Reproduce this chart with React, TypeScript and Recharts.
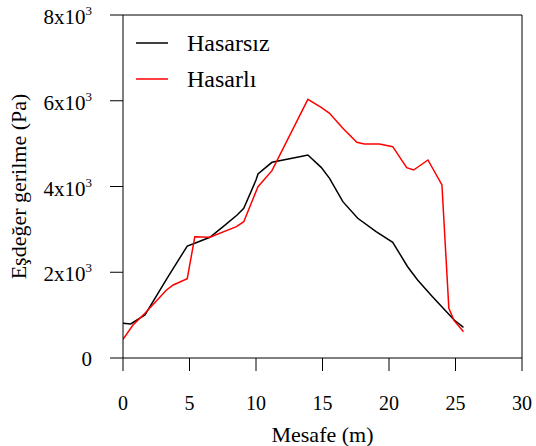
import React from "react";
import { LineChart, Line, XAxis, YAxis, ReferenceLine } from "recharts";

const hasarsizX = [0, 0.58, 1.65, 3.3, 4.83, 5.4, 6.53, 7.53, 8.58, 9.08, 10.0, 10.15, 11.2, 13.28, 13.9, 14.9, 15.53, 16.53, 17.65, 19.03, 20.28, 21.4, 22.15, 23.27, 24.9, 25.6];
const hasarsizY = [809, 793, 1003, 1850, 2612, 2675, 2815, 3063, 3335, 3491, 4152, 4292, 4564, 4695, 4735, 4447, 4190, 3646, 3258, 2946, 2698, 2129, 1819, 1430, 886, 716];

const hasarliX = [0, 0.75, 1.65, 3.27, 3.78, 4.83, 5.4, 6.53, 8.53, 9.08, 10.15, 11.2, 13.9, 14.9, 15.53, 16.53, 17.58, 18.15, 19.28, 20.28, 21.33, 21.85, 22.93, 23.98, 24.5, 24.9, 25.6];
const hasarliY = [436, 770, 1042, 1586, 1703, 1850, 2830, 2815, 3063, 3180, 3996, 4370, 6034, 5847, 5707, 5357, 5031, 4991, 4991, 4929, 4439, 4385, 4618, 4035, 1159, 870, 614];

const xTicks = [0, 5, 10, 15, 20, 25, 30];
const yTicks = [0, 2000, 4000, 6000, 8000];

const seriesNames = ["Hasarsız", "Hasarlı"];
const seriesColors = ["#000000", "#ff0000"];

const hasarsizData = hasarsizX.map((x, i) => ({ x, y: hasarsizY[i] }));
const hasarliData = hasarliX.map((x, i) => ({ x, y: hasarliY[i] }));

const FONT = "'Liberation Serif', 'Times New Roman', serif";

const YTick = (props: any) => {
  const { x, y, payload } = props;
  const v = payload.value as number;
  if (v === 0) {
    return (
      <text x={x} y={y} dy={8} textAnchor="end" fontSize={21} fontFamily={FONT} fill="#000">
        0
      </text>
    );
  }
  return (
    <text x={x} y={y} dy={9} textAnchor="end" fontSize={21} fontFamily={FONT} fill="#000">
      {`${v / 1000}x10`}
      <tspan dy={-9} fontSize={13}>3</tspan>
    </text>
  );
};

const LegendBox = () => (
  <div style={{ position: "absolute", left: 136, top: 25, fontFamily: FONT, fontSize: 24, color: "#000" }}>
    {seriesNames.map((n, i) => (
      <div key={n} style={{ display: "flex", alignItems: "center", height: 36 }}>
        <svg width={51} height={10} style={{ display: "block" }}>
          <line x1={0} y1={5} x2={32} y2={5} stroke={seriesColors[i]} strokeWidth={1.5} />
        </svg>
        <span style={{ lineHeight: "36px" }}>{n}</span>
      </div>
    ))}
  </div>
);

export default function App() {
  return (
    <div style={{ position: "absolute", left: 0, top: 0, width: 536, height: 446, background: "#fff" }}>
      <LineChart
        width={536}
        height={446}
        margin={{ top: 15, right: 14, left: 0, bottom: 0 }}
        style={{ fontFamily: FONT }}
      >
        <XAxis
          type="number"
          dataKey="x"
          domain={[0, 30]}
          ticks={xTicks}
          allowDataOverflow
          height={88}
          tickSize={13}
          tickMargin={25}
          stroke="#000"
          tick={{ fontSize: 20, fill: "#000", fontFamily: FONT }}
          label={{ value: "Mesafe (m)", position: "insideBottom", offset: 4, fontSize: 22, fill: "#000", fontFamily: FONT }}
        />
        <YAxis
          type="number"
          domain={[0, 8000]}
          ticks={yTicks}
          width={123}
          tickSize={13}
          tickMargin={18}
          stroke="#000"
          tick={<YTick />}
          label={{ value: "Eşdeğer gerilme (Pa)", angle: -90, position: "insideLeft", offset: 18, fontSize: 22, fill: "#000", fontFamily: FONT, style: { textAnchor: "middle" } }}
        />
        <ReferenceLine y={8000} stroke="#000" />
        <ReferenceLine x={30} stroke="#000" />
        <Line
          data={hasarsizData}
          dataKey="y"
          name={seriesNames[0]}
          type="linear"
          stroke={seriesColors[0]}
          strokeWidth={1.5}
          dot={false}
          isAnimationActive={false}
        />
        <Line
          data={hasarliData}
          dataKey="y"
          name={seriesNames[1]}
          type="linear"
          stroke={seriesColors[1]}
          strokeWidth={1.5}
          dot={false}
          isAnimationActive={false}
        />
      </LineChart>
      <LegendBox />
    </div>
  );
}
